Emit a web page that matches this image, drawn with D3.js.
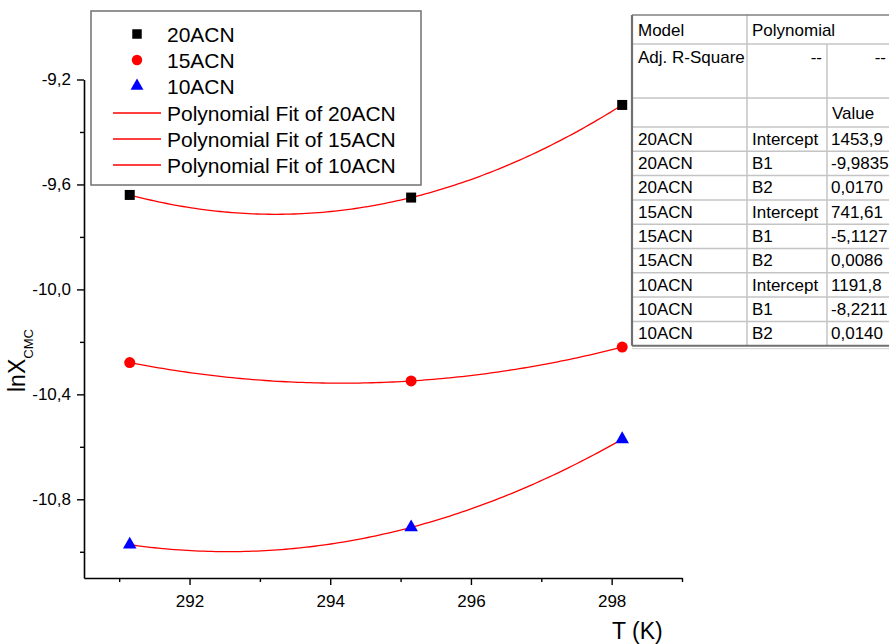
<!DOCTYPE html>
<html>
<head>
<meta charset="utf-8">
<script src="https://cdn.jsdelivr.net/npm/d3@7"></script>
<style>
  html, body { margin: 0; padding: 0; background: #fff; }
  svg { display: block; font-family: Arial, "Liberation Sans", sans-serif; }
</style>
</head>
<body>
<svg id="chart" width="889" height="644"></svg>
<script>
// ---------------- data ----------------
const temperatures = [291.15, 295.15, 298.15];
const series20 = [-9.640, -9.650, -9.297];
const series15 = [-10.279, -10.349, -10.220];
const series10 = [-10.973, -10.907, -10.571];
const seriesNames = ["20ACN", "15ACN", "10ACN"];
const fitNames = ["Polynomial Fit of 20ACN", "Polynomial Fit of 15ACN", "Polynomial Fit of 10ACN"];
const xMajorTicks = [292, 294, 296, 298];
const xMinorTicks = [291, 293, 295, 297, 299];
const yMajorTicks = [-10.8, -10.4, -10.0, -9.6, -9.2];
const yMinorTicks = [-11.0, -10.6, -10.2, -9.8, -9.4];
const tableHeader = ["Model", "Polynomial"];
const tableAdjR = ["Adj. R-Square", "--", "--"];
const tableValueHeader = ["", "", "Value"];
const tableModels = ["20ACN", "20ACN", "20ACN", "15ACN", "15ACN", "15ACN", "10ACN", "10ACN", "10ACN"];
const tableParams = ["Intercept", "B1", "B2", "Intercept", "B1", "B2", "Intercept", "B1", "B2"];
const tableValues = ["1453,9", "-9,9835", "0,0170", "741,61", "-5,1127", "0,0086", "1191,8", "-8,2211", "0,0140"];

// ---------------- setup ----------------
const svg = d3.select("#chart");
const plot = { left: 84, right: 682, top: 79.5, bottom: 578 };
const x = d3.scaleLinear().domain([290.5, 299.0]).range([plot.left, plot.right]);
const y = d3.scaleLinear().domain([-11.1, -9.2]).range([plot.bottom, plot.top]);
const fmt = d => d3.format(".1f")(d).replace(".", ",").replace("−", "-");

const series = [
  { name: seriesNames[0], values: series20, symbol: d3.symbolSquare, size: 100, color: "#000000" },
  { name: seriesNames[1], values: series15, symbol: d3.symbolCircle, size: 95, color: "#ff0000" },
  { name: seriesNames[2], values: series10, symbol: d3.symbolTriangle, size: 80, color: "#0000ff" }
];

// quadratic least-squares fit
function polyfit2(xs, ys) {
  const x0 = d3.mean(xs);
  const n = xs.length;
  let S = [[0,0,0],[0,0,0],[0,0,0]], B = [0,0,0];
  for (let i = 0; i < n; i++) {
    const t = xs[i] - x0;
    const p = [1, t, t * t];
    for (let r = 0; r < 3; r++) {
      B[r] += p[r] * ys[i];
      for (let c = 0; c < 3; c++) S[r][c] += p[r] * p[c];
    }
  }
  for (let i = 0; i < 3; i++) {
    for (let k = i + 1; k < 3; k++) {
      const f = S[k][i] / S[i][i];
      for (let c = i; c < 3; c++) S[k][c] -= f * S[i][c];
      B[k] -= f * B[i];
    }
  }
  const coef = [0,0,0];
  for (let i = 2; i >= 0; i--) {
    let s = B[i];
    for (let c = i + 1; c < 3; c++) s -= S[i][c] * coef[c];
    coef[i] = s / S[i][i];
  }
  return tt => { const t = tt - x0; return coef[0] + coef[1] * t + coef[2] * t * t; };
}

// ---------------- fit lines ----------------
const line = d3.line().x(d => x(d[0])).y(d => y(d[1]));
const tMin = d3.min(temperatures), tMax = d3.max(temperatures);
const samples = d3.range(0, 121).map(i => tMin + (tMax - tMin) * i / 120);
series.forEach(s => {
  const f = polyfit2(temperatures, s.values);
  svg.append("path")
    .datum(samples.map(t => [t, f(t)]))
    .attr("d", line)
    .attr("fill", "none")
    .attr("stroke", "#ff0000")
    .attr("stroke-width", 1.3);
});

// ---------------- markers ----------------
series.forEach(s => {
  svg.append("g").selectAll("path")
    .data(temperatures.map((t, i) => [t, s.values[i]]))
    .join("path")
    .attr("d", d3.symbol().type(s.symbol).size(s.size))
    .attr("transform", d => `translate(${x(d[0])},${y(d[1])})`)
    .attr("fill", s.color);
});

// ---------------- axes ----------------
svg.append("g").attr("transform", `translate(0,${plot.bottom})`)
  .call(d3.axisBottom(x).tickValues(xMajorTicks).tickSize(7).tickSizeOuter(0).tickPadding(10).tickFormat(d3.format("d")));
svg.append("g").attr("transform", `translate(0,${plot.bottom})`)
  .call(d3.axisBottom(x).tickValues(xMinorTicks).tickSize(4).tickSizeOuter(0).tickFormat(""))
  .select(".domain").remove();
svg.append("g").attr("transform", `translate(${plot.left},0)`)
  .call(d3.axisLeft(y).tickValues(yMajorTicks).tickSize(7).tickSizeOuter(0).tickPadding(6).tickFormat(fmt));
svg.append("g").attr("transform", `translate(${plot.left},0)`)
  .call(d3.axisLeft(y).tickValues(yMinorTicks).tickSize(4).tickSizeOuter(0).tickFormat(""))
  .select(".domain").remove();

svg.selectAll(".domain").attr("stroke", "#000").attr("stroke-width", 1.6);
svg.selectAll(".tick line").attr("stroke", "#000").attr("stroke-width", 1.4);
svg.selectAll(".tick text").attr("font-size", 17).attr("fill", "#000")
  .attr("font-family", "Arial, 'Liberation Sans', sans-serif");

// axis titles
svg.append("text")
  .attr("x", 612).attr("y", 639)
  .attr("font-size", 23).attr("fill", "#000")
  .text("T (K)");

const yl = svg.append("text")
  .attr("transform", "translate(25,392) rotate(-90)")
  .attr("font-size", 23).attr("fill", "#000");
yl.append("tspan").text("lnX");
yl.append("tspan").attr("font-size", 13).attr("dy", 8).text("CMC");

// ---------------- legend ----------------
const lg = svg.append("g");
lg.append("rect").attr("x", 91).attr("y", 11).attr("width", 330).attr("height", 174)
  .attr("fill", "#fff").attr("stroke", "#707070").attr("stroke-width", 1.5);
const legRowY = [34, 60, 86, 113, 139, 165];
series.forEach((s, i) => {
  lg.append("path")
    .attr("d", d3.symbol().type(s.symbol).size(s.size * 0.9))
    .attr("transform", `translate(137,${legRowY[i]})`)
    .attr("fill", s.color);
  lg.append("text").attr("x", 167).attr("y", legRowY[i]).attr("dy", "0.36em")
    .attr("font-size", 21).attr("fill", "#000").text(s.name);
});
fitNames.forEach((n, i) => {
  const yy = legRowY[i + 3];
  lg.append("line").attr("x1", 113).attr("x2", 161).attr("y1", yy).attr("y2", yy)
    .attr("stroke", "#ff0000").attr("stroke-width", 1.3);
  lg.append("text").attr("x", 167).attr("y", yy).attr("dy", "0.36em")
    .attr("font-size", 21).attr("fill", "#000").text(n);
});

// ---------------- table ----------------
const tb = svg.append("g");
const c0 = 632, c1 = 747, c2 = 827, cR = 960;
const r0 = 15, r1 = 44, r2 = 98, r3 = 127, rowH = 24.3;
const rBottom = r3 + rowH * tableModels.length;
tb.append("rect").attr("x", c0).attr("y", r0).attr("width", cR - c0).attr("height", rBottom - r0)
  .attr("fill", "#fff");
const grid = "#c4c4c4";
[r1, r2, r3].concat(d3.range(1, tableModels.length).map(i => r3 + i * rowH)).forEach(yy => {
  tb.append("line").attr("x1", c0).attr("x2", cR).attr("y1", yy).attr("y2", yy)
    .attr("stroke", grid).attr("stroke-width", 1.5);
});
tb.append("line").attr("x1", c1).attr("x2", c1).attr("y1", r0).attr("y2", rBottom)
  .attr("stroke", grid).attr("stroke-width", 1.5);
tb.append("line").attr("x1", c2).attr("x2", c2).attr("y1", r1).attr("y2", rBottom)
  .attr("stroke", grid).attr("stroke-width", 1.5);
tb.append("line").attr("x1", c0).attr("x2", cR).attr("y1", r0).attr("y2", r0)
  .attr("stroke", "#808080").attr("stroke-width", 1.5);
tb.append("line").attr("x1", c0).attr("x2", cR).attr("y1", rBottom).attr("y2", rBottom)
  .attr("stroke", "#707070").attr("stroke-width", 2);
tb.append("line").attr("x1", c0).attr("x2", cR).attr("y1", rBottom + 3).attr("y2", rBottom + 3)
  .attr("stroke", "#d0d0d0").attr("stroke-width", 1);
tb.append("line").attr("x1", c0).attr("x2", c0).attr("y1", r0).attr("y2", rBottom)
  .attr("stroke", "#707070").attr("stroke-width", 2.2);

const tfs = 17;
function cell(tx, ty, str, anchor) {
  tb.append("text").attr("x", tx).attr("y", ty).attr("dy", "0.36em")
    .attr("font-size", tfs).attr("fill", "#000")
    .attr("text-anchor", anchor || "start").text(str);
}
cell(c0 + 6, (r0 + r1) / 2, tableHeader[0]);
cell(c1 + 5, (r0 + r1) / 2, tableHeader[1]);
cell(c0 + 6, r1 + 13, tableAdjR[0]);
cell(c2 - 5, r1 + 13, tableAdjR[1], "end");
cell(886, r1 + 13, tableAdjR[2], "end");
cell(c2 + 5, (r2 + r3) / 2, tableValueHeader[2]);
tableModels.forEach((m, i) => {
  const yy = r3 + rowH * i + rowH / 2 - 0.5;
  cell(c0 + 6, yy, m);
  cell(c1 + 5, yy, tableParams[i]);
  cell(c2 + 4, yy, tableValues[i]);
});
</script>
</body>
</html>
